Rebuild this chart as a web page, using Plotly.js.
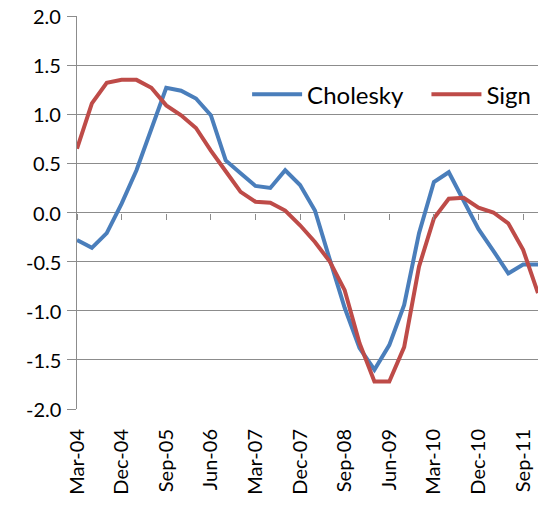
<!DOCTYPE html>
<html>
<head>
<meta charset="utf-8">
<script src="https://cdn.plot.ly/plotly-3.0.1.min.js"></script>
<style>html,body{margin:0;padding:0;background:#fff;}#chart{width:538px;height:509px;}</style>
</head>
<body>
<div id="chart"></div>
<script>
const quarters = ['Mar-04','Jun-04','Sep-04','Dec-04','Mar-05','Jun-05','Sep-05','Dec-05',
  'Mar-06','Jun-06','Sep-06','Dec-06','Mar-07','Jun-07','Sep-07','Dec-07',
  'Mar-08','Jun-08','Sep-08','Dec-08','Mar-09','Jun-09','Sep-09','Dec-09',
  'Mar-10','Jun-10','Sep-10','Dec-10','Mar-11','Jun-11','Sep-11','Dec-11'];
const cholesky = [-0.28,-0.36,-0.21,0.09,0.43,0.86,1.27,1.24,1.16,0.99,0.53,0.40,0.27,0.25,0.43,0.28,
  0.02,-0.48,-0.97,-1.38,-1.60,-1.35,-0.94,-0.21,0.31,0.41,0.11,-0.17,-0.39,-0.62,-0.53,-0.53];
const sign = [0.65,1.11,1.32,1.35,1.35,1.27,1.09,0.99,0.86,0.63,0.42,0.21,0.11,0.10,0.02,-0.13,
  -0.30,-0.50,-0.79,-1.33,-1.72,-1.72,-1.37,-0.55,-0.06,0.14,0.15,0.05,0.00,-0.11,-0.38,-0.82];
const xTickLabels = ['Mar-04','Dec-04','Sep-05','Jun-06','Mar-07','Dec-07','Sep-08','Jun-09','Mar-10','Dec-10','Sep-11'];
const yTickVals = [-2,-1.5,-1,-0.5,0,0.5,1,1.5,2];
const yTickText = ['-2.0','-1.5','-1.0','-0.5','0.0','0.5','1.0','1.5','2.0'];

const FONT = 'Lato, "Open Sans", sans-serif';
const GRID = '#8c8c8c';
const legendFont = {family: FONT, size: 24, color: '#000'};
const yLabelFont = {family: FONT, size: 20, color: '#000'};

const data = [
  {x: quarters, y: cholesky, name: 'Cholesky', type: 'scatter', mode: 'lines', legend: 'legend',
   line: {color: '#4A7EBB', width: 4}},
  {x: quarters, y: sign, name: 'Sign', type: 'scatter', mode: 'lines', legend: 'legend2',
   line: {color: '#BE4B48', width: 4}},
  {x: quarters, y: cholesky, xaxis: 'x2', yaxis: 'y', type: 'scatter', mode: 'lines',
   line: {width: 0}, opacity: 0, showlegend: false, hoverinfo: 'skip'}
];

const yLabelAnnotations = yTickVals.map((v, i) => ({
  xref: 'paper', x: 0, yref: 'y', y: v, text: yTickText[i],
  xanchor: 'right', yanchor: 'middle', xshift: -14, showarrow: false, font: yLabelFont
}));

const layout = {
  width: 538, height: 509,
  margin: {l: 77, r: 0, t: 16, b: 100},
  paper_bgcolor: '#fff', plot_bgcolor: '#fff',
  font: {family: FONT, size: 19, color: '#000'},
  showlegend: true,
  legend: {orientation: 'h', x: 0.369, y: 0.80, xanchor: 'left', yanchor: 'middle',
    itemwidth: 50, font: legendFont, bgcolor: 'rgba(0,0,0,0)'},
  legend2: {orientation: 'h', x: 0.758, y: 0.80, xanchor: 'left', yanchor: 'middle',
    itemwidth: 50, font: legendFont, bgcolor: 'rgba(0,0,0,0)'},
  annotations: yLabelAnnotations,
  xaxis: {type: 'category', range: [0, 31], tickmode: 'array', tickvals: xTickLabels,
    ticktext: xTickLabels, tickangle: -90, ticks: '', showgrid: false, zeroline: false,
    showline: false, ticklabelstandoff: 15, tickfont: {family: FONT, size: 20, color: '#000'}},
  xaxis2: {type: 'category', overlaying: 'x', anchor: 'free', position: 0.5, range: [0, 31],
    tickmode: 'array', tickvals: xTickLabels, ticks: 'outside', ticklen: 6, tickwidth: 1,
    tickcolor: GRID, showticklabels: false, showgrid: false, zeroline: false, showline: false},
  yaxis: {range: [-2, 2], tickmode: 'array', tickvals: yTickVals, showticklabels: false,
    showgrid: true, gridcolor: GRID, gridwidth: 1, zeroline: false,
    showline: true, linecolor: GRID, linewidth: 1, ticks: 'outside', ticklen: 9,
    tickcolor: GRID}
};

Plotly.newPlot('chart', data, layout, {displayModeBar: false, staticPlot: true});
</script>
</body>
</html>
